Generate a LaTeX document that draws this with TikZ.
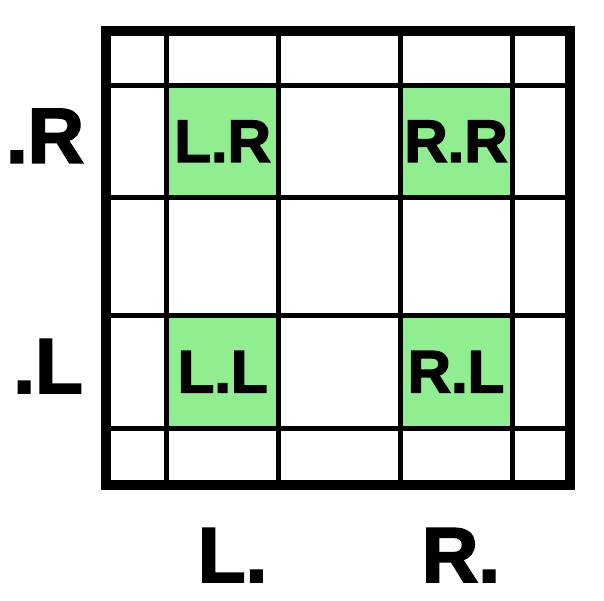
\documentclass[tikz,border=0pt]{standalone}
\usepackage{fontspec}
\setmainfont{Liberation Sans}[BoldFeatures={FakeBold=2.5}]
\definecolor{lightgreen}{HTML}{90EE90}
\begin{document}
\begin{tikzpicture}[x=1pt,y=-1pt,
    cell/.style={fill=lightgreen, inner sep=0pt, minimum width=112pt, minimum height=112pt,
      font=\fontsize{60}{60}\selectfont\bfseries},
    axis/.style={inner sep=0pt, anchor=base, font=\fontsize{78}{78}\selectfont\bfseries}]
    \useasboundingbox (0,0) rectangle (604,600);

    % Green cells
    \node[cell] (LR) at (222.6,141.3) {L.R};
    \node[cell] (RR) at (456,141.3) {R.R};
    \node[cell] (LL) at (222.6,371.8) {L.L};
    \node[cell] (RL) at (456,371.8) {R.L};

    % Grid lines
    \foreach \x in {166.7,278.5,400,512}
        \draw[line width=5pt] (\x,31) -- (\x,485);
    \foreach \y in {85.3,197.3,315.5,428}
        \draw[line width=5pt] (106,\y) -- (570,\y);

    % Outer border
    \draw[line width=9.5pt] (106,31) rectangle (570,485);

    % Axis labels
    \node[axis] (rowR) at (45,162.7) {.R};
    \node[axis] (rowL) at (48,393) {.L};
    \node[axis] (colL) at (232.5,582) {L.};
    \node[axis] (colR) at (461,582) {R.};
\end{tikzpicture}
\end{document}
